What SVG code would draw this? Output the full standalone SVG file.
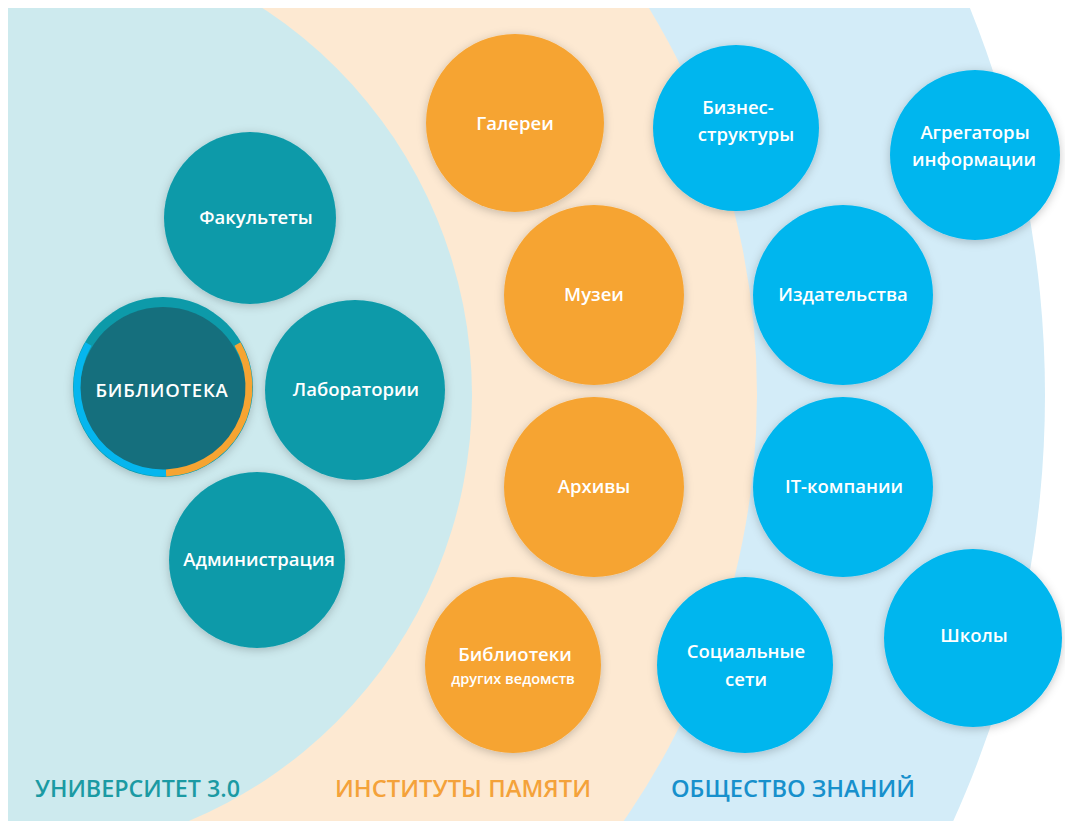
<svg xmlns="http://www.w3.org/2000/svg" width="1065" height="821" viewBox="0 0 1065 821">
  <defs>
    <clipPath id="area"><rect x="8" y="8" width="1057" height="813"/></clipPath>
    <filter id="sh" x="-20%" y="-20%" width="140%" height="140%">
      <feDropShadow dx="0" dy="2" stdDeviation="5" flood-color="#000" flood-opacity="0.22"/>
    </filter>
  </defs>
  <style>
    .t { fill: #0b9aa9; filter: url(#sh); }
    .o { fill: #f6a432; filter: url(#sh); }
    .b { fill: #05b6ee; filter: url(#sh); }
    .lbl { font-family: "Open Sans", "Liberation Sans", sans-serif; font-weight: 600; font-size: 18.5px; fill: #ffffff; text-anchor: middle; }
    .sm { font-size: 14.5px; }
    .cap { font-family: "Open Sans", "Liberation Sans", sans-serif; font-weight: 600; font-size: 24px; }
  </style>

  <g id="bands" clip-path="url(#area)">
    <circle cx="10" cy="395" r="1035" fill="#d3ecf8"/>
    <circle cx="10" cy="395" r="747" fill="#fde9d2"/>
    <circle cx="10" cy="395" r="462" fill="#cdeaee"/>
  </g>

  <g id="fakultety">
    <circle class="t" cx="250" cy="218" r="86"/>
    <text class="lbl" x="256" y="224">Факультеты</text>
  </g>
  <g id="laboratorii">
    <circle class="t" cx="355" cy="390" r="90"/>
    <text class="lbl" x="356" y="396">Лаборатории</text>
  </g>
  <g id="administratsiya">
    <circle class="t" cx="257" cy="560" r="88"/>
    <text class="lbl" x="259" y="566">Администрация</text>
  </g>
  <g id="biblioteka">
    <circle cx="163" cy="387" r="90" fill="#0b9aa9" filter="url(#sh)"/>
    <circle cx="163" cy="390" r="83" fill="#156f7d"/>
    <path d="M237.5,344 A86,86 0 0 1 166,472.9" fill="none" stroke="#f6a432" stroke-width="7"/>
    <path d="M166,472.9 A86,86 0 0 1 88.5,344" fill="none" stroke="#05b6ee" stroke-width="7"/>
    <text class="lbl" x="162" y="397" font-size="20" letter-spacing="0.8">БИБЛИОТЕКА</text>
  </g>

  <g id="galerei">
    <circle class="o" cx="515" cy="123" r="89"/>
    <text class="lbl" x="515" y="130">Галереи</text>
  </g>
  <g id="muzei">
    <circle class="o" cx="594" cy="295" r="90"/>
    <text class="lbl" x="594" y="301">Музеи</text>
  </g>
  <g id="arkhivy">
    <circle class="o" cx="594" cy="487" r="90"/>
    <text class="lbl" x="594" y="493">Архивы</text>
  </g>
  <g id="biblioteki-drugikh">
    <circle class="o" cx="513" cy="665" r="88"/>
    <text class="lbl" x="515" y="661">Библиотеки</text>
    <text class="lbl sm" x="513" y="684">других ведомств</text>
  </g>

  <g id="biznes">
    <circle class="b" cx="736" cy="128" r="83"/>
    <text class="lbl" x="738" y="114">Бизнес-</text>
    <text class="lbl" x="746" y="141">структуры</text>
  </g>
  <g id="agregatory">
    <circle class="b" cx="975" cy="155" r="85"/>
    <text class="lbl" x="975" y="139">Агрегаторы</text>
    <text class="lbl" x="974" y="166">информации</text>
  </g>
  <g id="izdatelstva">
    <circle class="b" cx="843" cy="295" r="90"/>
    <text class="lbl" x="843" y="301">Издательства</text>
  </g>
  <g id="it">
    <circle class="b" cx="843" cy="487" r="90"/>
    <text class="lbl" x="844" y="493">IT-компании</text>
  </g>
  <g id="socseti">
    <circle class="b" cx="745" cy="665" r="88"/>
    <text class="lbl" x="746" y="658">Социальные</text>
    <text class="lbl" x="746" y="686">сети</text>
  </g>
  <g id="shkoly">
    <circle class="b" cx="973" cy="638" r="89"/>
    <text class="lbl" x="974" y="642">Школы</text>
  </g>

  <g id="captions">
    <text class="cap" x="35" y="797" fill="#1b9aa3" textLength="205" lengthAdjust="spacingAndGlyphs">УНИВЕРСИТЕТ 3.0</text>
    <text class="cap" x="335" y="797" fill="#f4a23a" textLength="256" lengthAdjust="spacingAndGlyphs">ИНСТИТУТЫ ПАМЯТИ</text>
    <text class="cap" x="671" y="797" fill="#1790cc" textLength="244" lengthAdjust="spacingAndGlyphs">ОБЩЕСТВО ЗНАНИЙ</text>
  </g>
</svg>
